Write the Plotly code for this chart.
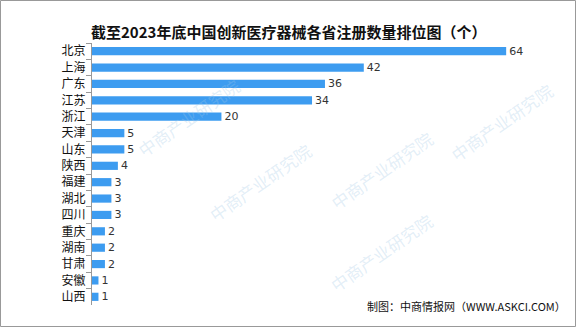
import plotly.graph_objects as go

provinces = ["北京", "上海", "广东", "江苏", "浙江", "天津", "山东", "陕西",
             "福建", "湖北", "四川", "重庆", "湖南", "甘肃", "安徽", "山西"]
counts = [64, 42, 36, 34, 20, 5, 5, 4, 3, 3, 3, 2, 2, 2, 1, 1]

title_text = "截至2023年底中国创新医疗器械各省注册数量排位图（个）"
source_text = "制图：中商情报网（WWW.ASKCI.COM）"

W, H = 576, 327
L, R, T, B = 92, 31, 43, 22
pw, ph = W - L - R, H - T - B

fig = go.Figure(go.Bar(
    x=counts, y=provinces, orientation="h",
    marker=dict(color="#3d9cf0", line=dict(width=0)),
    text=counts, textposition="outside", cliponaxis=False, constraintext="none",
    textfont=dict(family="DejaVu Sans", size=11, color="#333333"),
))

def px(x):
    return (x - L) / pw

def py(y):
    return (H - B - y) / ph

fig.update_layout(
    width=W, height=H,
    margin=dict(l=L, r=R, t=T, b=B),
    paper_bgcolor="white", plot_bgcolor="white",
    bargap=0.5, showlegend=False,
    font=dict(family="Noto Sans CJK SC"),
    xaxis=dict(range=[0, 70], visible=False),
    yaxis=dict(autorange="reversed", showline=True, linecolor="#999999", linewidth=1,
               ticks="outside", tickson="boundaries", ticklen=5, tickcolor="#999999",
               tickfont=dict(family="Noto Sans CJK SC", size=12, color="#111111"),
               showgrid=False, ticklabelstandoff=3),
)

annotations = [
    dict(text="<b>" + title_text + "</b>", x=px(288), y=py(19), xref="paper", yref="paper",
         showarrow=False, font=dict(family="Noto Sans CJK SC", size=15, color="#111111")),
    dict(text=source_text, x=px(568), y=py(316), xref="paper", yref="paper", xanchor="right",
         showarrow=False, font=dict(family="Noto Sans CJK SC", size=11, color="#111111")),
]
# light watermarks
for (wx, wy) in [(130, 70), (260, 230), (440, 170), (440, 300), (560, 75)]:
    annotations.append(dict(text="中商产业研究院", x=px(wx), y=py(wy), xref="paper", yref="paper",
                            showarrow=False, textangle=-35,
                            font=dict(family="Noto Sans CJK SC", size=17, color="rgba(160,200,230,0.3)")))
fig.update_layout(annotations=annotations)

fig.add_shape(type="rect", xref="paper", yref="paper",
              x0=px(0.5), x1=px(W - 0.5), y0=py(0.5), y1=py(H - 0.5),
              line=dict(color="#999999", width=1), layer="above")

fig.write_html("out.html")
